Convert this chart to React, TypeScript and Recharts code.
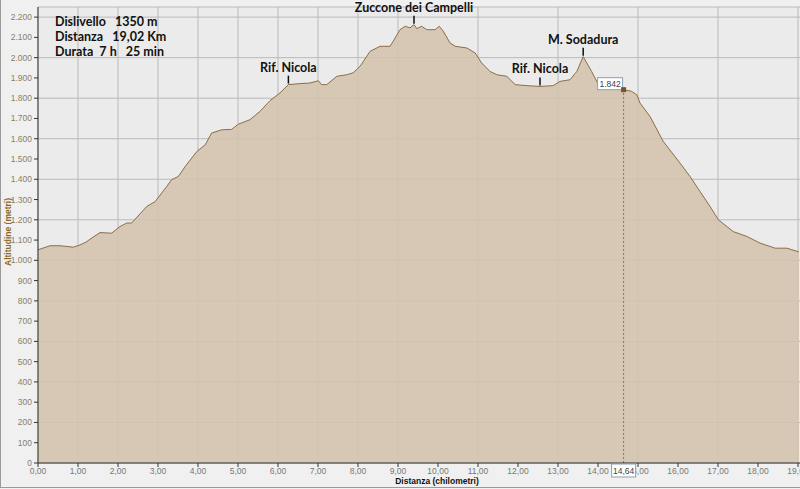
import { AreaChart, Area, XAxis, YAxis, CartesianGrid, ReferenceDot, ReferenceLine } from "recharts";

// profile: distance (km) / altitude (m)
const distanceKm = [
  0, 0.15, 0.3, 0.55, 0.88, 1.05, 1.2, 1.35, 1.55, 1.84, 2.05, 2.22, 2.34, 2.72, 2.93, 3.22, 3.34,
  3.51, 3.68, 3.97, 4.18, 4.34, 4.59, 4.84, 5.01, 5.3, 5.55, 5.8, 6.05, 6.26, 6.55, 6.8, 7.01, 7.09,
  7.22, 7.47, 7.72, 7.88, 8.05, 8.3, 8.55, 8.8, 8.88, 9.05, 9.18, 9.3, 9.4, 9.47, 9.59, 9.72, 9.93,
  10.03, 10.13, 10.3, 10.43, 10.72, 10.93, 11.09, 11.3, 11.47, 11.72, 11.93, 12.22, 12.55, 12.88,
  13.05, 13.3, 13.47, 13.63, 13.84, 14.01, 14.13, 14.3, 14.64, 14.84, 14.97, 15.05, 15.3, 15.63,
  16.05, 16.3, 16.55, 16.8, 17.01, 17.38, 17.72, 18.05, 18.43, 18.72, 19.02,
];
const altitudeM = [
  1052, 1062, 1072, 1072, 1065, 1076, 1090, 1111, 1137, 1134, 1167, 1184, 1184, 1266, 1290, 1365, 1398,
  1414, 1463, 1537, 1570, 1628, 1644, 1646, 1672, 1694, 1735, 1788, 1826, 1867, 1872, 1875, 1886, 1867,
  1867, 1908, 1916, 1925, 1957, 2031, 2056, 2056, 2081, 2138, 2155, 2147, 2163, 2143, 2155, 2138, 2138,
  2155, 2131, 2073, 2056, 2048, 2023, 1974, 1932, 1916, 1908, 1867, 1862, 1858, 1862,
  1883, 1891, 1932, 2005, 1932, 1867, 1853, 1848, 1842, 1834, 1817, 1776, 1710, 1587,
  1480, 1414, 1340, 1266, 1200, 1142, 1118, 1085, 1060, 1060, 1042,
];

const placeNames = ["Rif. Nicola", "Zuccone dei Campelli", "Rif. Nicola", "M. Sodadura"];
const placeKm = [6.26, 9.4, 12.55, 13.63];
const placeAlt = [1867, 2163, 1858, 2005];

const cursorKm = 14.64;
const cursorAlt = 1842;

const xTicks = [0, 1, 2, 3, 4, 5, 6, 7, 8, 9, 10, 11, 12, 13, 14, 15, 16, 17, 18, 19];
const yTicks = [
  0, 100, 200, 300, 400, 500, 600, 700, 800, 900, 1000, 1100, 1200, 1300, 1400, 1500, 1600, 1700,
  1800, 1900, 2000, 2100, 2200,
];

const infoLines = ["Dislivello   1350 m", "Distanza   19,02 Km", "Durata  7 h   25 min"];

const data = distanceKm.map((d, i) => ({ d, h: altitudeM[i] }));

const fmtKm = (v: number) => v.toFixed(2).replace(".", ",");
const fmtM = (v: number) => (v >= 1000 ? `${Math.floor(v / 1000)}.${String(v % 1000).padStart(3, "0")}` : String(v));

const labelFont = "Lato, 'Open Sans', sans-serif";

function PlaceMark(props: any) {
  const { cx, cy, name } = props;
  return (
    <g>
      <line x1={cx} x2={cx} y1={cy - 9} y2={cy - 1} stroke="#111" strokeWidth={1.5} />
      <text x={cx} y={cy - 13} textAnchor="middle" fontFamily={labelFont} fontWeight={700} fontSize={12.5} fill="#111">
        {name}
      </text>
    </g>
  );
}

function CursorPoint(props: any) {
  const { cx, cy } = props;
  return (
    <g>
      <rect x={cx - 26} y={cy - 12} width={25} height={12} fill="#fff" stroke="#8aa0b4" strokeWidth={1} />
      <text x={cx - 13.5} y={cy - 3} textAnchor="middle" fontFamily="'Liberation Sans', Arial" fontSize={8.5} fill="#444">
        {fmtM(cursorAlt)}
      </text>
      <rect x={cx - 2.5} y={cy - 2.5} width={5} height={5} fill="#7a5426" />
    </g>
  );
}

function CursorAxisBox(props: any) {
  const { cx, cy } = props;
  return (
    <g>
      <rect x={cx - 12} y={cy + 1} width={24} height={13} fill="#fff" stroke="#8aa0b4" strokeWidth={1} />
      <text x={cx} y={cy + 11} textAnchor="middle" fontFamily="'Liberation Sans', Arial" fontSize={8.5} fill="#444">
        {fmtKm(cursorKm)}
      </text>
    </g>
  );
}

export default function App() {
  return (
    <div
      style={{
        position: "fixed",
        left: 0,
        top: 0,
        width: 800,
        height: 489,
        overflow: "hidden",
        background: "#f0f0f0",
      }}
    >
      <AreaChart width={820} height={489} data={data} margin={{ top: 7, right: 2, left: 0, bottom: 0 }}>
        <CartesianGrid fill="#ebebeb" stroke="#b9b9b9" />
        <XAxis
          dataKey="d"
          type="number"
          domain={[0, 19.5]}
          ticks={xTicks}
          tickFormatter={fmtKm}
          height={26}
          tickSize={4}
          tickMargin={1}
          stroke="#333"
          tick={{ fill: "#777", fontSize: 8.5, fontFamily: "'Liberation Sans', Arial" }}
          allowDataOverflow
        />
        <YAxis
          type="number"
          domain={[0, 2250]}
          ticks={yTicks}
          tickFormatter={fmtM}
          width={38}
          tickSize={4}
          tickMargin={2}
          stroke="#333"
          tick={{ fill: "#8a7f6c", fontSize: 8.5, fontFamily: "'Liberation Sans', Arial" }}
          allowDataOverflow
        />
        <Area
          dataKey="h"
          type="linear"
          stroke="#8c6d46"
          strokeWidth={1}
          fill="#d3c3ac"
          fillOpacity={0.86}
          isAnimationActive={false}
        />
        <ReferenceLine
          segment={[
            { x: cursorKm, y: 0 },
            { x: cursorKm, y: cursorAlt },
          ]}
          stroke="#777"
          strokeDasharray="2 2"
        />
        {placeNames.map((name, i) => (
          <ReferenceDot key={i} x={placeKm[i]} y={placeAlt[i]} shape={(p: any) => <PlaceMark {...p} name={name} />} />
        ))}
        <ReferenceDot x={cursorKm} y={cursorAlt} shape={(p: any) => <CursorPoint {...p} />} />
        <ReferenceDot
          x={cursorKm}
          y={0}
          zIndex={2000}
          ifOverflow="visible"
          shape={(p: any) => <CursorAxisBox {...p} />}
        />
      </AreaChart>

      <div
        style={{
          position: "absolute",
          left: 55,
          top: 14,
          fontFamily: labelFont,
          fontWeight: 700,
          fontSize: 12.5,
          lineHeight: "15px",
          color: "#111",
          whiteSpace: "pre",
        }}
      >
        {infoLines.map((t, i) => (
          <div key={i}>{t}</div>
        ))}
      </div>

      <div
        style={{
          position: "absolute",
          left: 8,
          top: 232,
          transform: "translate(-50%, -50%) rotate(-90deg)",
          fontFamily: "'Liberation Sans', Arial",
          fontWeight: 700,
          fontSize: 8.5,
          color: "#8b6a20",
          whiteSpace: "nowrap",
        }}
      >
        Altitudine (metri)
      </div>
      <div
        style={{
          position: "absolute",
          left: 437,
          top: 481,
          transform: "translate(-50%, -50%)",
          fontFamily: "'Liberation Sans', Arial",
          fontWeight: 700,
          fontSize: 8.5,
          color: "#111",
          whiteSpace: "nowrap",
        }}
      >
        Distanza (chilometri)
      </div>
      <div
        style={{
          position: "absolute",
          left: 0,
          top: 0,
          width: 800,
          height: 488,
          borderLeft: "1px solid #9a9a9a",
          borderBottom: "1px solid #9a9a9a",
          boxSizing: "border-box",
          pointerEvents: "none",
        }}
      />
    </div>
  );
}
